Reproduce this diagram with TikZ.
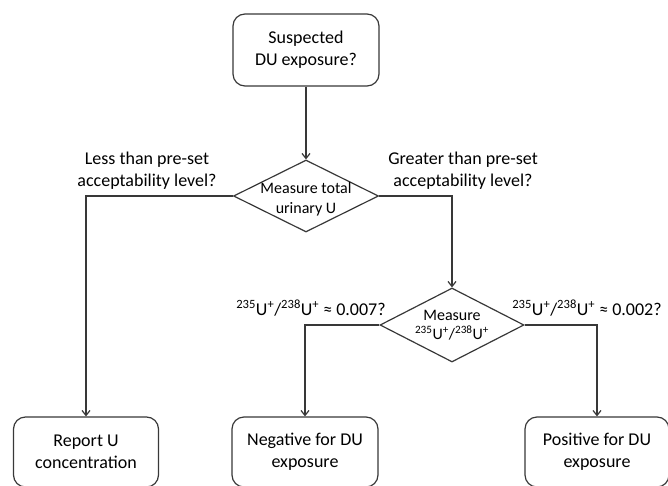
\documentclass[tikz,border=0pt]{standalone}
\usepackage{fontspec}
\setmainfont{Carlito}
\usetikzlibrary{shapes.geometric,arrows.meta}
\begin{document}
\begin{tikzpicture}[x=1pt,y=-1pt,
  line/.style={draw=black!78,line width=1.2pt},
  arr/.style={line,-{Straight Barb[length=5pt,width=8pt]}},
  box/.style={draw=black!78,line width=1.2pt,rounded corners=12pt,minimum width=146pt,minimum height=72pt,inner sep=0pt,align=center,font=\fontsize{18}{22}\selectfont},
  dia/.style={draw=black!78,line width=1.2pt,diamond,inner sep=0pt,minimum width=145pt,minimum height=72pt},
  lbl/.style={align=center,font=\fontsize{18}{22}\selectfont,inner sep=0pt},
  dtxt/.style={align=center,font=\fontsize{16}{19.5}\selectfont,inner sep=0pt}]
\useasboundingbox (0,0) rectangle (668,486);
\node[box] (top) at (306,50) {Suspected\\DU exposure?};
\node[dia] (d1) at (306,196) {};
\node[dtxt] (t1) at (306,199) {Measure total\\urinary U};
\node[dia,minimum width=144pt,minimum height=74pt] (d2) at (452,325) {};
\node[dtxt] (t2) at (452,325) {Measure\\\textsuperscript{235}U\textsuperscript{+}/\textsuperscript{238}U\textsuperscript{+}};
\node[lbl] (l1) at (147,171) {Less than pre-set\\acceptability level?};
\node[lbl] (l2) at (463,171) {Greater than pre-set\\acceptability level?};
\node[lbl] (l3) at (311,308) {\textsuperscript{235}U\textsuperscript{+}/\textsuperscript{238}U\textsuperscript{+} ≈ 0.007?};
\node[lbl] (l4) at (587,308) {\textsuperscript{235}U\textsuperscript{+}/\textsuperscript{238}U\textsuperscript{+} ≈ 0.002?};
\node[box,minimum width=145pt,minimum height=70pt] (b1) at (86,452) {Report U\\concentration};
\node[box,minimum height=70pt] (b2) at (305,452) {Negative for DU\\exposure};
\node[box,minimum width=144pt,minimum height=70pt] (b3) at (597,452) {Positive for DU\\exposure};
\draw[arr] (top.south) -- (d1.north);
\draw[arr] (d1.west) -| (b1.north);
\draw[arr] (d1.east) -| (d2.north);
\draw[arr] (d2.west) -| (b2.north);
\draw[arr] (d2.east) -| (b3.north);
\end{tikzpicture}
\end{document}
